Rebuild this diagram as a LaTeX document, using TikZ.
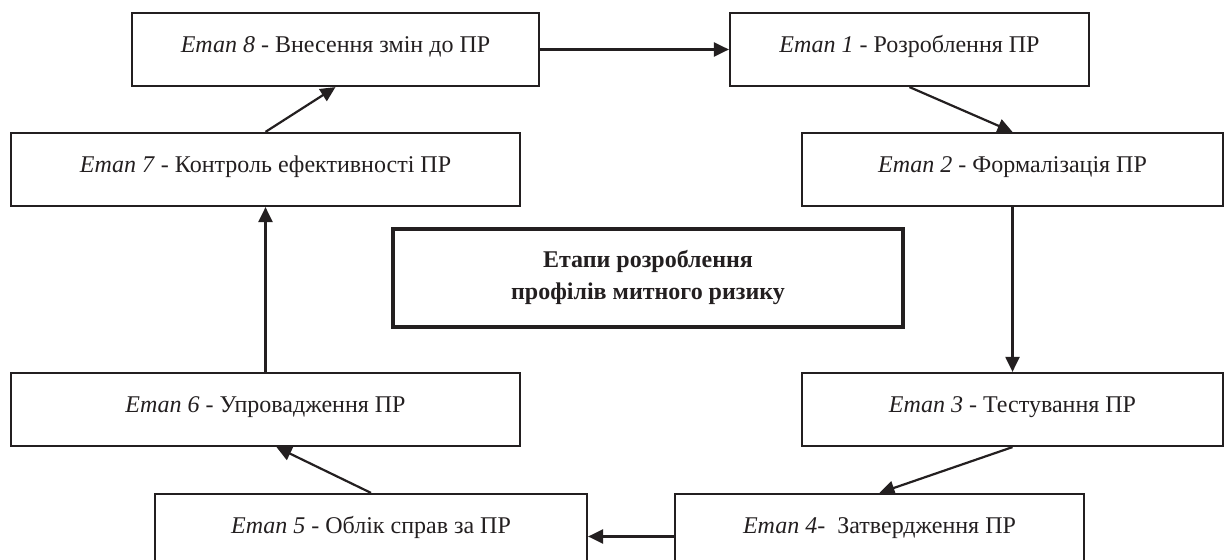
\documentclass[tikz,border=0pt]{standalone}
\usepackage{fontspec}
\setmainfont{Liberation Serif}
\usetikzlibrary{arrows.meta,positioning}
\definecolor{ink}{RGB}{35,31,32}
\tikzset{
  >={Triangle[length=7.5pt,width=7pt]},
  stage/.style={draw=ink,line width=1.1pt,minimum width=0.5pt*#1,minimum height=36.5pt,
    text height=9pt,text depth=5.5pt,inner sep=2pt,text=ink,
    font=\fontsize{12}{14}\selectfont},
  title/.style={draw=ink,line width=2.4pt,minimum width=255pt,minimum height=49pt,
    align=center,text=ink,font=\fontsize{12}{16}\selectfont\bfseries},
  flow/.style={->,line width=1.1pt,draw=ink},
}
\begin{document}
\begin{tikzpicture}[x=0.5pt,y=-0.5pt]
  \useasboundingbox (0,0) rectangle (1226,560);
  % stages round the title
  \node[stage=407] (e8) at (335.5,49.5) {\textit{Етап 8} - Внесення змін до ПР};
  \node[stage=359] (e1) at (909.5,49.5) {\textit{Етап 1} - Розроблення ПР};
  \node[stage=509] (e7) at (265.5,169.5) {\textit{Етап 7} - Контроль ефективності ПР};
  \node[stage=421] (e2) at (1012.5,169.5) {\textit{Етап 2} - Формалізація ПР};
  \node[title] (t) at (648,278) {Етапи розроблення\\профілів митного ризику};
  \node[stage=509] (e6) at (265.5,409.5) {\textit{Етап 6} - Упровадження ПР};
  \node[stage=421] (e3) at (1012.5,409.5) {\textit{Етап 3} - Тестування ПР};
  \node[stage=432] (e5) at (371,530.5) {\textit{Етап 5} - Облік справ за ПР};
  \node[stage=409] (e4) at (879.5,530.5) {\textit{Етап 4}-~ Затвердження ПР};
  % cycle
  \foreach \a/\b in {e8.east/e1.west,e1.south/e2.north,e2.south/e3.north,e3.south/e4.north,
    e6.north/e7.south,e7.north/e8.south}
    \draw[flow] (\a) -- (\b);
  \draw[flow] ([yshift=-3pt]e4.west) -- ([yshift=-3pt]e5.east);
  \draw[flow] (e5.north) -- ([xshift=5.5pt]e6.south);
\end{tikzpicture}
\end{document}
